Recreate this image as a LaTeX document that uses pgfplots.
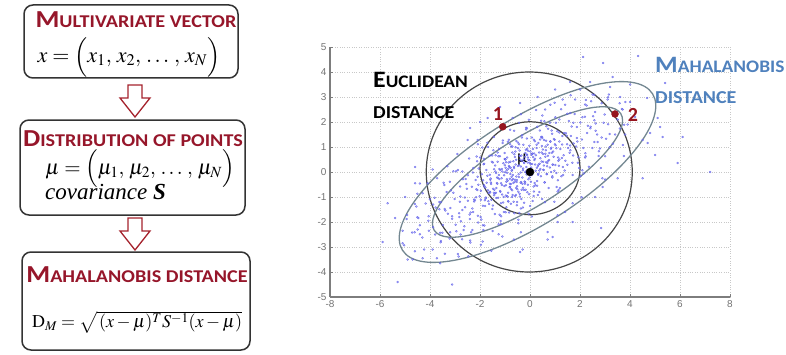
\documentclass[border=0pt]{standalone}
\usepackage{amsmath}
\usepackage{mathptmx}
\usepackage{fontspec}
\setmainfont{Carlito}
\newfontfamily\tickfont{Liberation Sans}
\newfontfamily\seriffont{Liberation Serif}
\newfontfamily\capfont[FakeStretch=1.12]{Carlito}
\newfontfamily\labfont[FakeStretch=1.1]{Carlito}
\usepackage{pgfplots}
\usepackage{pgfplotstable}
\pgfplotsset{compat=1.18}

\definecolor{titlered}{RGB}{150,22,42}
\definecolor{arrowred}{RGB}{165,35,45}
\definecolor{mahablue}{RGB}{79,129,189}
\definecolor{ellgray}{RGB}{115,135,145}
\definecolor{circgray}{RGB}{70,70,70}
\definecolor{ptred}{RGB}{150,20,30}
\definecolor{dotblue}{RGB}{60,60,230}
\definecolor{axgray}{RGB}{125,125,125}
\definecolor{gridgray}{RGB}{200,200,200}

% fake small caps: big initial, smaller rest
\newcommand{\capsA}[2]{{\capfont\bfseries{\fontsize{24.4}{24}\selectfont#1}{\fontsize{18}{18}\selectfont#2}}}
\newcommand{\capsB}[2]{{\labfont\bfseries{\fontsize{23.5}{24}\selectfont#1}{\fontsize{17.6}{18}\selectfont#2}}}
\newcommand{\capsC}[1]{{\labfont\bfseries\fontsize{18.2}{18}\selectfont#1}}

% sample points of the two-dimensional distribution
\pgfplotstableread{
x y
-0.42 0.65
1.13 0.45
-2.06 0.14
0.37 -0.80
-1.48 -0.67
2.41 1.75
-0.85 1.29
-3.12 -1.87
0.08 0.32
-1.17 -1.25
1.66 1.82
-0.21 -0.47
-2.53 -0.67
0.72 1.73
-0.63 -1.65
3.04 1.33
-1.84 -0.53
0.19 1.23
-0.97 -0.53
-4.01 -1.09
1.32 -0.12
-0.05 2.09
-1.39 0.02
0.94 0.61
-2.77 -1.97
0.51 0.90
-0.74 -0.19
2.02 -0.16
-1.62 0.65
-0.28 -0.63
0.27 0.17
-3.46 -0.43
1.87 1.36
-1.02 0.52
-0.52 -1.20
0.66 -0.08
-2.24 -1.18
1.49 2.33
-0.13 0.70
-1.26 -2.09
0.83 0.93
-1.93 -0.09
2.68 1.50
-0.36 -0.40
-2.95 -2.37
0.44 2.05
-0.79 -0.08
1.05 -0.04
-1.55 -1.11
-0.01 0.11
-4.62 -2.41
0.15 1.29
-1.11 0.02
1.58 0.77
-0.58 0.99
-2.38 -1.62
0.98 1.29
-0.24 -1.23
-1.71 1.17
3.47 2.40
-0.68 -0.28
0.58 -0.41
-1.33 -0.44
2.19 2.21
-3.78 -1.42
-0.09 0.58
1.24 2.51
-0.91 -0.98
-2.12 0.43
0.33 -0.07
-1.44 0.11
0.77 0.76
-0.47 -2.05
-2.61 -1.02
1.93 0.59
-0.17 0.89
-1.05 -1.60
0.05 -0.06
2.86 2.75
-1.78 -1.06
0.62 1.02
-0.33 1.38
-3.29 -1.67
1.41 0.45
-0.72 0.08
-1.98 -1.80
0.21 -0.53
-1.21 0.63
1.02 1.07
-0.54 -0.40
-2.44 0.54
0.41 0.55
-0.88 -0.83
2.35 0.21
-1.59 -0.31
-0.11 -0.81
0.88 1.53
-4.31 -2.62
-0.39 0.49
1.74 1.14
-1.16 -0.45
0.29 1.81
-2.31 -1.46
1.19 -0.64
-0.61 0.60
-3.58 -2.81
0.69 0.36
-1.47 0.87
2.57 2.07
-0.25 -0.72
-0.94 0.07
1.52 0.96
-1.87 -2.32
0.11 0.92
-0.81 -0.47
3.31 1.13
-2.69 -0.29
0.48 -1.08
-0.44 1.97
-1.29 -0.24
0.97 0.05
-0.07 0.49
-2.02 -0.97
1.78 2.32
-0.66 -1.19
-1.53 0.41
0.36 0.78
-3.07 -0.83
2.13 0.96
-0.19 0.00
-1.08 -1.22
0.56 1.28
-0.31 -0.47
-2.18 -0.32
1.28 1.10
-0.75 1.02
-1.66 -0.84
0.14 -0.96
-4.18 -1.26
0.91 0.30
-0.49 0.24
2.74 0.64
-1.35 -1.04
0.24 2.48
-0.98 0.17
-2.84 -1.65
1.36 1.56
-0.14 -0.10
-1.75 0.08
0.59 -1.21
-0.57 -0.92
1.61 0.87
-2.27 0.16
-0.03 1.05
-1.19 -0.79
0.79 1.97
-3.39 -1.54
-0.84 -1.62
2.28 1.56
-0.35 0.66
-1.64 -1.28
0.46 0.42
-0.71 0.78
1.11 -0.33
-2.49 -1.15
-0.16 1.70
0.03 -0.39
-1.25 -0.12
3.76 1.89
-0.93 -0.29
0.71 0.65
-1.91 0.98
-0.41 -0.98
1.46 1.45
-2.98 -2.11
0.17 0.48
-0.62 -0.39
-1.41 -1.68
2.01 1.98
-0.27 1.09
-1.01 0.27
0.53 0.09
-2.36 -2.41
1.69 0.37
-0.78 0.17
-0.06 -1.67
-1.57 -0.42
0.86 1.66
-3.63 -1.20
-0.45 -0.20
1.21 0.92
-1.12 -0.90
0.31 0.24
-2.07 -0.51
-0.55 1.24
2.49 0.96
-1.37 -0.83
0.09 0.74
-0.87 -1.18
-5.04 -2.93
0.64 1.25
-1.69 -0.73
-0.22 -0.38
1.38 0.06
-2.58 -0.28
-0.69 -0.12
0.39 1.66
-1.22 -1.71
2.94 1.97
-0.37 0.22
-1.81 -1.13
0.99 1.11
-0.51 -0.69
-3.21 -0.39
0.22 0.05
-0.96 0.39
1.84 1.02
-1.49 -1.34
-0.12 0.68
0.74 -0.64
-2.16 -1.01
-0.64 1.65
1.09 1.63
-1.03 -0.56
-4.47 -1.84
0.18 -0.44
-0.83 0.21
2.21 0.75
-1.61 -0.11
-0.29 -1.42
0.52 0.72
-1.27 0.63
-2.71 -1.52
1.63 1.44
-0.46 -0.09
-1.95 -1.90
0.07 1.38
-0.76 -0.68
3.18 1.52
-1.14 -0.25
0.28 -0.55
-0.58 0.30
-2.29 -0.02
1.27 0.56
-1.43 -0.71
-0.02 -0.22
0.81 1.23
-3.88 -2.21
-0.89 1.21
1.96 0.16
-1.74 -0.43
-0.34 -0.71
0.47 1.41
-1.18 -1.96
2.62 1.65
-0.73 -0.33
-2.42 -1.70
0.12 0.60
-0.99 0.51
1.15 0.25
-0.15 0.20
-1.52 0.66
0.68 0.23
-3.02 -1.08
-0.53 -1.33
1.55 2.04
-1.31 -0.47
-0.08 0.85
-2.09 -1.75
0.92 0.82
-0.67 0.43
2.44 2.83
-1.06 -1.00
0.34 0.30
-1.86 0.31
-0.43 -1.64
1.34 0.67
-2.55 -0.48
-0.24 0.36
-0.80 -0.59
0.57 2.03
-1.45 -0.83
1.91 0.37
-0.11 -0.05
-3.51 -2.43
-0.92 -0.03
0.26 1.09
-1.67 -1.17
1.01 0.28
-0.59 0.82
-2.21 -1.13
0.43 -0.17
-1.09 1.26
2.79 0.94
-0.38 -0.02
-1.36 -0.04
0.76 0.48
-0.04 -0.89
-2.89 0.08
1.43 1.55
-0.70 -0.92
0.16 0.74
-1.23 -0.28
-0.48 0.95
1.72 0.66
-1.97 -1.11
-0.20 -0.41
0.61 0.73
-2.66 -2.32
-0.86 0.38
1.17 2.10
-1.51 -1.48
0.02 0.32
-0.60 -0.31
-3.34 -0.80
0.89 -0.22
-1.00 -0.01
2.31 1.85
-0.32 1.47
-1.79 -0.62
0.37 0.06
-0.95 -1.41
1.48 1.11
-2.33 -0.59
-0.14 0.05
-1.30 0.41
0.70 1.09
-0.56 -0.64
-4.07 -1.95
1.06 -0.60
-1.13 0.12
0.20 0.30
-0.77 -0.48
-2.00 0.58
2.07 1.30
-0.42 -0.87
-1.58 -0.26
0.49 1.36
-0.26 0.51
-2.81 -1.19
1.31 0.20
-0.90 -0.35
0.10 -1.16
-1.38 0.67
0.55 0.26
-0.65 0.21
-1.89 -1.35
3.58 2.75
-0.10 0.38
-1.20 -0.76
-0.33 0.44
0.41 0.12
-0.82 -0.61
-0.12 0.93
0.63 0.87
-1.07 0.35
-0.55 -0.18
0.28 -0.36
-0.21 0.61
-1.32 -0.22
0.95 1.32
-0.63 0.71
0.06 -0.12
-0.97 -0.94
-0.44 0.27
0.52 0.41
-1.56 -0.48
-0.18 -0.71
0.33 1.16
-0.74 0.05
-1.24 0.92
0.79 0.18
-0.38 -0.43
-0.03 0.47
-0.92 0.58
0.14 -0.58
-1.44 -0.93
0.46 0.78
-0.60 -0.96
-0.28 0.14
1.12 0.58
-0.85 0.24
-1.71 -0.15
0.23 0.67
-0.49 1.18
-0.07 -0.29
-1.13 -0.52
0.67 -0.09
-0.35 -1.08
-0.71 1.02
0.38 0.33
-1.40 0.26
-0.16 -0.02
0.85 0.97
-0.52 -0.57
-1.02 0.76
0.01 0.82
-0.81 -0.27
0.58 -0.42
-1.61 -0.79
-0.24 0.38
1.29 1.44
-0.67 -0.44
-0.13 1.34
-1.19 0.08
0.32 -0.11
-0.42 0.86
-0.88 -1.17
0.72 0.44
-1.83 -0.58
-0.31 -0.22
0.19 0.53
-1.04 -0.13
-0.56 0.49
0.47 1.04
-1.28 -1.03
0.04 0.18
-0.79 0.41
-2.11 -0.72
0.90 0.29
-0.47 -0.79
-0.19 0.76
-1.49 0.38
0.61 0.61
-0.95 -0.39
-0.09 -0.51
-0.64 0.16
1.05 0.95
-1.35 -0.64
0.26 0.96
-0.29 0.07
-0.72 -0.73
-1.10 1.16
0.54 0.08
-0.41 0.64
-1.77 -1.02
-0.02 0.36
0.81 1.21
-0.87 0.13
-0.53 -0.32
-3.19 -1.44
-2.08 -2.02
1.87 1.80
-3.60 -2.43
2.86 1.38
-2.49 -0.13
1.70 -0.12
-3.88 -1.30
1.03 1.97
-1.50 -2.36
2.98 2.30
-4.41 -2.13
-0.16 1.77
-0.47 -1.91
2.75 0.83
-3.43 -0.52
0.97 -1.19
-1.68 1.00
1.89 1.22
-2.72 -2.69
3.12 2.99
-4.24 -3.10
1.17 1.22
-1.88 -0.33
2.23 2.88
-1.80 -1.36
0.89 -0.17
-4.55 -1.38
1.40 2.69
-1.97 -2.91
0.40 1.30
-0.72 -1.00
2.09 2.19
-3.22 -2.66
2.14 -0.06
-2.80 -0.58
-0.80 1.11
-1.16 -1.77
3.12 1.91
-4.41 -2.49
1.17 0.50
-2.60 -1.41
0.98 2.77
-2.39 -2.82
0.06 0.72
-1.85 0.53
2.62 1.94
-3.41 -3.27
0.65 1.83
-1.11 -2.58
2.20 0.58
-3.63 -1.49
0.31 -0.92
-1.41 -0.86
3.59 1.74
-5.10 -2.35
0.64 0.39
-2.41 -1.88
1.62 3.07
-0.99 0.50
2.83 0.16
-4.30 -0.85
1.25 -0.17
-1.97 -0.75
-0.44 1.11
-2.86 -3.38
2.26 2.66
-2.96 0.03
1.14 -0.72
-0.77 -1.27
1.17 1.58
-2.83 -1.80
3.67 2.52
-4.94 -1.88
0.87 0.77
0.00 -1.36
1.01 2.19
-1.89 -2.13
3.00 0.63
-3.57 -1.21
-4.61 -1.28
-2.47 -3.37
-4.72 -2.42
-3.31 0.23
-2.63 -2.17
-0.37 -2.41
0.81 2.69
3.75 0.64
-3.49 -2.12
-2.71 0.02
3.15 3.10
-3.73 -3.45
-2.09 1.11
2.06 -1.01
-3.17 -0.74
-1.16 -2.08
2.57 1.20
-3.42 -1.48
-0.80 1.69
0.07 -1.78
-4.51 -0.87
2.57 3.08
-1.55 -3.15
2.09 0.07
-2.10 -0.19
-4.61 -3.17
-0.13 1.75
-2.40 -2.74
1.73 1.97
-2.24 -1.10
-4.51 -1.81
-1.84 0.33
3.18 0.99
-3.20 -2.41
1.10 -0.78
-2.28 -1.60
0.49 2.26
-3.57 -2.76
-1.45 1.40
3.80 1.50
-3.72 -0.25
-0.98 -1.61
2.89 -0.25
-1.26 -2.49
-4.92 -1.72
1.10 -1.73
2.42 1.81
-3.82 -1.03
-1.23 0.12
-2.79 -0.98
-0.37 2.31
-0.65 -2.70
3.81 2.80
-2.89 -3.28
1.60 1.06
-3.12 -1.77
-0.91 -0.98
-3.07 0.03
0.06 0.69
-2.31 -2.32
1.49 0.29
-4.05 -2.35
0.15 -0.78
1.61 2.36
-2.15 -0.69
-4.41 -0.46
3.71 1.08
-0.37 -1.46
-1.83 -2.14
0.44 1.40
-1.90 -2.78
-1.30 0.78
-4.06 -1.77
2.22 0.63
-1.60 -0.82
-2.91 0.72
0.84 0.00
-2.78 -2.50
-2.14 0.62
2.52 2.23
7.20 0.00
2.12 4.60
2.92 4.36
4.32 4.64
4.00 2.80
4.68 2.96
5.40 3.56
5.20 1.80
5.30 1.40
4.50 1.28
6.10 1.40
5.90 0.36
4.80 1.56
4.70 1.16
5.00 0.68
5.10 2.16
2.84 -2.24
2.60 -1.00
2.90 -0.60
4.50 -0.25
3.50 -0.25
3.00 -0.30
1.70 -1.25
1.40 -1.60
0.70 -2.40
0.90 -2.60
0.70 -2.70
1.10 -2.00
1.70 -2.00
-3.12 -4.50
-5.30 -4.40
-5.90 -2.80
-5.40 -1.84
-5.70 -1.25
-5.00 -1.00
-4.60 -0.45
-4.50 -2.30
-5.10 -2.85
-4.90 -3.50
-4.70 -3.50
-4.30 -3.45
-3.90 -3.10
-3.60 -3.65
-0.40 -3.20
-0.30 -3.10
-3.80 -2.50
-0.40 2.76
-2.40 1.76
-2.10 1.28
-2.50 1.28
-4.60 0.20
-2.00 2.00
-1.70 2.16
-0.70 2.16
-3.90 0.10
-4.10 -0.45
1.00 3.30
0.30 3.00
1.60 3.60
2.50 3.10
3.20 3.40
3.60 3.00
2.20 2.70
-1.20 2.60
3.90 1.90
3.40 1.50
4.20 2.20
2.60 2.40
3.10 2.90
1.80 2.90
2.40 3.60
3.70 2.50
1.30 2.90
0.60 2.50
2.00 3.30
3.30 3.80
4.00 3.50
2.70 1.20
3.50 2.10
}\scatterdata

\begin{document}
\begin{tikzpicture}[x=1pt,y=1pt]
\useasboundingbox (0,0) rectangle (786,354);

% ---------- left-hand flow of definitions ----------
\draw[rounded corners=9pt, line width=1.5pt, draw=black!80] (24,276) rectangle (238,349);
\draw[rounded corners=9pt, line width=1.5pt, draw=black!80] (20,139) rectangle (245,234);
\draw[rounded corners=9pt, line width=1.5pt, draw=black!80] (22,4) rectangle (250,102);

\node[text=titlered, inner sep=0] at (136,334) {\capsA{M}{ULTIVARIATE VECTOR}};
\node[inner sep=0] at (129,297) {\fontsize{22}{22}\selectfont $x=\Bigl(x_1,\,x_2,\,\ldots\,,\,x_N\Bigr)$};

\node[text=titlered, inner sep=0] at (133,215) {\capsA{D}{ISTRIBUTION OF POINTS}};
\node[inner sep=0] at (140,185) {\fontsize{21}{22}\selectfont $\mu=\Bigl(\mu_1,\,\mu_2,\,\ldots\,,\,\mu_N\Bigr)$};
\node[anchor=base west, inner sep=0] at (45,155) {\seriffont\itshape\fontsize{23}{23}\selectfont covariance \bfseries S};

\node[text=titlered, inner sep=0] at (137,79) {\capsA{M}{AHALANOBIS DISTANCE}};
\node[inner sep=0] at (137,32) {\fontsize{18}{18}\selectfont $\mathrm{D}_M=\sqrt{\,(x-\mu)^T S^{-1}(x-\mu)}$};

\draw[arrowred, line width=1.3pt, fill=white, line join=miter]
  (128,269) -- (142,269) -- (142,256) -- (150,256) -- (135,237) -- (120,256) -- (128,256) -- cycle;
\draw[arrowred, line width=1.3pt, fill=white, line join=miter]
  (128,136) -- (142,136) -- (142,123) -- (150,123) -- (135,104) -- (120,123) -- (128,123) -- cycle;

% ---------- scatter plot with distances ----------
\begin{axis}[
  at={(330pt,57pt)}, anchor=south west,
  width=400pt, height=250pt, scale only axis,
  xmin=-8, xmax=8, ymin=-5, ymax=5,
  xtick={-8,-6,...,8}, ytick={-5,-4,...,5},
  axis x line*=bottom, axis y line*=left,
  axis line style={axgray, line width=1.1pt, -},
  tick style={axgray, line width=0.8pt},
  major tick length=3pt, tick align=inside,
  grid=major, grid style={gridgray, dotted, line width=0.8pt},
  ticklabel style={font=\tickfont\fontsize{10}{10}\selectfont, text=black!55},
  /pgf/number format/assume math mode=true,
]
\addplot[only marks, mark=*, mark size=1.0pt,
  mark options={draw=dotblue, fill=dotblue!40, line width=0.35pt}, opacity=0.7]
  table[x=x, y=y] {\scatterdata};

% Euclidean distance circles around the mean
\draw[circgray, line width=1.2pt] (axis cs:-0.03,0) ellipse [x radius=103pt, y radius=100pt];
\draw[circgray, line width=1.2pt] (axis cs:0,0.15) ellipse [x radius=50pt, y radius=46.5pt];

% Mahalanobis distance contours
\draw[ellgray, line width=1.3pt, rotate around={32:(axis cs:-0.1,0)}]
  (axis cs:-0.1,0) ellipse [x radius=147.5pt, y radius=53.5pt];
\draw[ellgray, line width=1.3pt, rotate around={32:(axis cs:-0.1,0)}]
  (axis cs:-0.1,0) ellipse [x radius=110pt, y radius=34.5pt];

\addplot[only marks, mark=*, mark size=3.5pt, ptred] coordinates {(-1.09,1.81) (3.40,2.32)};
\addplot[only marks, mark=*, mark size=4pt, black] coordinates {(0,0)};

\node[text=ptred, font=\bfseries\fontsize{20}{20}\selectfont] at (axis cs:-1.28,2.32) {1};
\node[text=ptred, font=\bfseries\fontsize{20}{20}\selectfont] at (axis cs:4.12,2.28) {2};
\node[font=\fontsize{18}{18}\selectfont] at (axis cs:-0.32,0.48) {μ};
\end{axis}

\node[anchor=base west, inner sep=0] at (373,266) {\capsB{E}{UCLIDEAN}};
\node[anchor=base west, inner sep=0] at (373,236) {\capsC{DISTANCE}};
\node[anchor=base west, inner sep=0, text=mahablue] at (655,281) {\capsB{M}{AHALANOBIS}};
\node[anchor=base west, inner sep=0, text=mahablue] at (655,251) {\capsC{DISTANCE}};
\end{tikzpicture}
\end{document}
